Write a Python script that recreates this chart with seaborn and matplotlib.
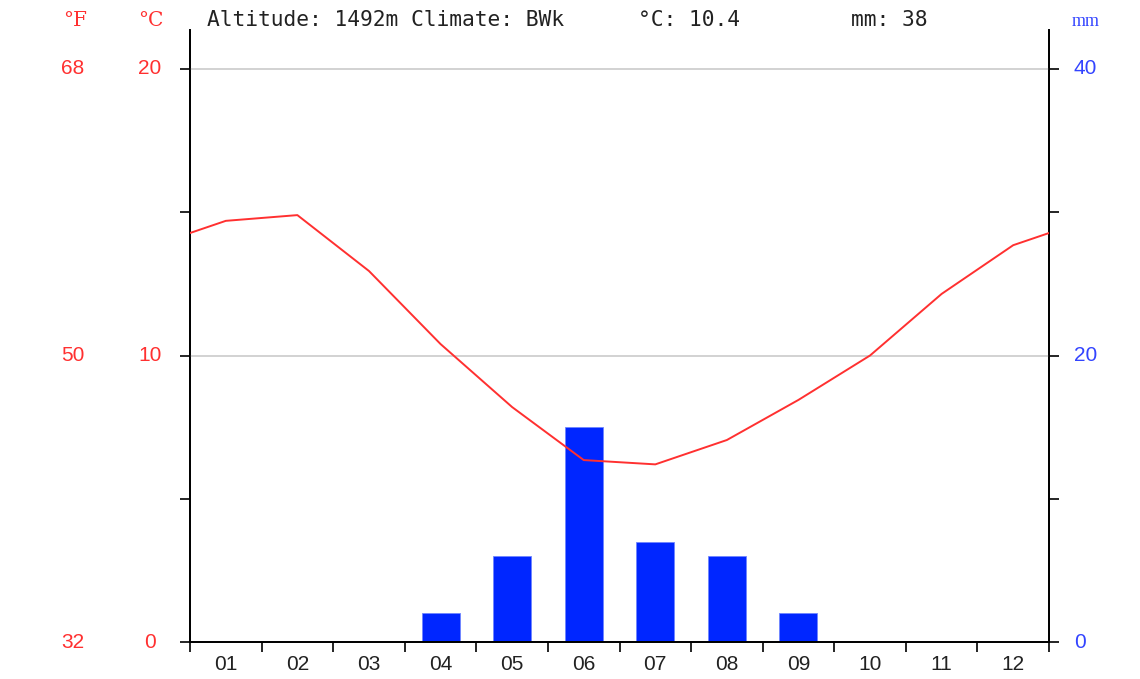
import matplotlib
matplotlib.use("Agg")
import matplotlib.pyplot as plt
import seaborn as sns
import numpy as np
import pandas as pd

months = ["01", "02", "03", "04", "05", "06", "07", "08", "09", "10", "11", "12"]
temp_c = [14.7, 14.9, 12.95, 10.4, 8.2, 6.35, 6.2, 7.05, 8.45, 10.0, 12.15, 13.85]
precip_mm = [0, 0, 0, 2, 6, 15, 7, 6, 2, 0, 0, 0]
c_labels = [0, 10, 20]
f_labels = [32, 50, 68]
mm_labels = [0, 20, 40]
header = "Altitude: 1492m Climate: BWk"
mean_c = "°C: 10.4"
total_mm = "mm: 38"

sns.set_theme(style="white")
W, H = 1140, 679
fig = plt.figure(figsize=(W / 100, H / 100), dpi=100)
L, R, B, T = 190, 1049, 642, 30
ax = fig.add_axes([L / W, 1 - B / H, (R - L) / W, (B - T) / H])
ax2 = ax.twinx()

red = "#ff3030"
blue = "#0026ff"
tmax = 20 * (B - T) / (B - 69)

df = pd.DataFrame({"month": months, "mm": precip_mm})
x = np.arange(12)
sns.barplot(data=df, x="month", y="mm", ax=ax2, color=blue, saturation=1,
            width=0.53, edgecolor="#6f86ff", linewidth=0.6, zorder=2)
ax2.set_ylim(0, 2 * tmax)
ax2.set_xlim(-0.5, 11.5)

# temperature line, wrapped to edges
edge = (temp_c[0] + temp_c[-1]) / 2
lx = np.concatenate([[-0.5], x, [11.5]])
ly = np.concatenate([[edge], temp_c, [edge]])
ax.set_zorder(ax2.get_zorder() + 1)
ax.patch.set_visible(False)
sns.lineplot(x=lx, y=ly, ax=ax, color=red, linewidth=1.4, zorder=5, sort=False)
ax.set_xlim(-0.5, 11.5)
ax.set_ylim(0, tmax)

for v in [10, 20]:
    ax.axhline(v, color="#cfcfcf", linewidth=1.3, zorder=0)

for a in (ax, ax2):
    a.spines["top"].set_visible(False)
    for s in ["left", "right", "bottom"]:
        a.spines[s].set_color("black")
        a.spines[s].set_linewidth(1.3)

ax.set_yticks([0, 5, 10, 15, 20])
ax.set_yticklabels([])
ax.tick_params(axis="y", left=True, length=7, width=1.2, color="black", direction="out")
ax2.set_yticks([0, 10, 20, 30, 40])
ax2.set_yticklabels([])
ax2.tick_params(axis="y", right=True, length=7, width=1.2, color="black", direction="out")

ax.set_xticks(np.arange(-0.5, 12, 1))
ax.set_xticklabels([])
ax.tick_params(axis="x", bottom=True, length=7, width=1.2, color="black", direction="out")
ax2.tick_params(axis="x", bottom=False, labelbottom=False)
ax2.set_xlabel("")
ax2.set_ylabel("")
ax.set_xlabel("")
ax.set_ylabel("")

def px(xp, yp):
    return xp / W, 1 - yp / H

sans = ["Liberation Sans", "DejaVu Sans"]
for i, m in enumerate(months):
    xp = L + (i + 0.5) * (R - L) / 12
    fig.text(*px(xp, 664.5), m, ha="center", va="center", fontsize=15,
             color="#222222", family=sans)

for c, f in zip(c_labels, f_labels):
    yp = B - c * (B - 69) / 20
    fig.text(*px(150, yp), str(c), ha="center", va="center", fontsize=15, color=red, family=sans)
    fig.text(*px(73, yp), str(f), ha="center", va="center", fontsize=15, color=red, family=sans)
for mm in mm_labels:
    yp = B - mm * (B - 69) / 40
    fig.text(*px(1074, yp), str(mm), ha="left", va="center", fontsize=15, color="#3344ff", family=sans)

fig.text(*px(75, 20), "°F", ha="center", va="center", fontsize=14.5, color=red, family="DejaVu Serif")
fig.text(*px(151, 20), "°C", ha="center", va="center", fontsize=14.5, color=red, family="DejaVu Serif")
fig.text(*px(1086, 21), "mm", ha="center", va="center", fontsize=13, color="#3344ff", family="Liberation Serif")
mono = "DejaVu Sans Mono"
fig.text(*px(207, 20), header, ha="left", va="center", fontsize=15.3, color="#222222", family=mono)
fig.text(*px(638, 20), mean_c, ha="left", va="center", fontsize=15.3, color="#222222", family=mono)
fig.text(*px(851, 20), total_mm, ha="left", va="center", fontsize=15.3, color="#222222", family=mono)

fig.savefig("out.png", dpi=100, facecolor="white")
